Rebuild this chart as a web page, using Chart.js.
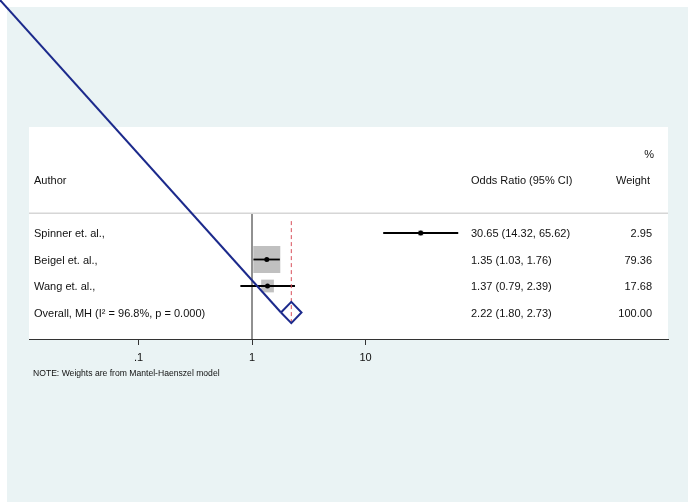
<!DOCTYPE html>
<html>
<head>
<meta charset="utf-8">
<title>Forest plot</title>
<script src="https://cdn.jsdelivr.net/npm/chart.js@4.4.1/dist/chart.umd.min.js"></script>
<style>
  html, body { margin: 0; padding: 0; background: #fff; }
  #forest { display: block; }
</style>
</head>
<body>
<canvas id="forest" width="688" height="502"></canvas>
<script>
// study rows, top to bottom
const studies = ['Spinner et. al.,', 'Beigel et. al.,', 'Wang et. al.,']
const oddsRatio = [30.65, 1.35, 1.37]
const ciLow = [14.32, 1.03, 0.79]
const ciHigh = [65.62, 1.76, 2.39]
const weights = [2.95, 79.36, 17.68]

// pooled estimate (Mantel-Haenszel)
const overallLabel = 'Overall, MH (I² = 96.8%, p = 0.000)'
const overallOR = 2.22
const overallLow = 1.80
const overallHigh = 2.73
const overallWeight = 100

const tickValues = [0.1, 1, 10]
const tickLabels = ['.1', '1', '10']

const FONT = '"Liberation Sans", Arial, Helvetica, sans-serif'
const NAVY = '#1c2a8c'
const FRAME_BG = '#eaf3f4'

// row positions on the hidden y axis (overall sits at 1)
const rowY = (i) => studies.length + 1 - i
const OVERALL_Y = 1
const SEPARATOR_Y = 4.75
const HEADER_Y = 6
const PCT_Y = 7
const DIAMOND_HALF = 0.4
const BOX_MAX = 27 // px side of the heaviest study box
const maxWeight = Math.max(...weights)

const fmt = (v) => v.toFixed(2)

const boxes = {
  data: studies.map((s, i) => ({ x: oddsRatio[i], y: rowY(i) })),
  pointStyle: 'rect',
  pointRadius: (ctx) => (BOX_MAX * Math.sqrt(weights[ctx.dataIndex] / maxWeight)) / (2 * Math.SQRT1_2),
  backgroundColor: '#c0c0c0',
  borderWidth: 0,
  order: 6,
}

const ciLines = studies.map((s, i) => ({
  data: [{ x: ciLow[i], y: rowY(i) }, { x: ciHigh[i], y: rowY(i) }],
  showLine: true,
  borderColor: '#000',
  borderWidth: 1.8,
  pointRadius: 0,
  order: 4,
}))

const estimates = {
  data: studies.map((s, i) => ({ x: oddsRatio[i], y: rowY(i) })),
  pointStyle: 'circle',
  pointRadius: 2.5,
  backgroundColor: '#000',
  borderWidth: 0,
  order: 1,
}

const nullLine = {
  data: [{ x: 1, y: 0 }, { x: 1, y: SEPARATOR_Y }],
  showLine: true,
  borderColor: '#222',
  borderWidth: 1,
  pointRadius: 0,
  order: 7,
}

const overallLine = {
  data: [{ x: overallOR, y: OVERALL_Y - DIAMOND_HALF }, { x: overallOR, y: rowY(0) + 0.55 }],
  showLine: true,
  borderColor: '#d94f5a',
  borderWidth: 1,
  borderDash: [4, 3],
  pointRadius: 0,
  order: 3,
}

const diamond = {
  data: [
    { x: overallLow, y: OVERALL_Y },
    { x: overallOR, y: OVERALL_Y + DIAMOND_HALF },
    { x: overallHigh, y: OVERALL_Y },
    { x: overallOR, y: OVERALL_Y - DIAMOND_HALF },
    { x: overallLow, y: OVERALL_Y },
  ],
  showLine: true,
  borderColor: NAVY,
  borderWidth: 2,
  pointRadius: 0,
  order: 2,
}

// frame background, white plot region
const backdrop = {
  id: 'backdrop',
  beforeDraw(chart) {
    const { ctx, chartArea: a, width, height } = chart
    ctx.save()
    ctx.fillStyle = '#fff'
    ctx.fillRect(0, 0, width, height)
    ctx.fillStyle = FRAME_BG
    ctx.fillRect(7, 7, width - 7, height - 7)
    ctx.fillStyle = '#fff'
    ctx.fillRect(a.left, a.top, a.right - a.left, a.bottom - a.top)
    ctx.restore()
  },
}

// table text, header rule and the stray polygon segment of the diamond
const table = {
  id: 'table',
  afterDatasetsDraw(chart) {
    const { ctx, chartArea: a, scales } = chart
    const y = scales.y
    const x = scales.x
    const nameX = a.left + 5
    const ciX = a.left + 442
    const wX = a.right - 16
    const rowPx = (v) => y.getPixelForValue(v) + 1

    ctx.save()
    ctx.strokeStyle = '#d6d6d6'
    ctx.lineWidth = 1.5
    ctx.beginPath()
    ctx.moveTo(a.left, y.getPixelForValue(SEPARATOR_Y))
    ctx.lineTo(a.right, y.getPixelForValue(SEPARATOR_Y))
    ctx.stroke()

    ctx.font = '11px ' + FONT
    ctx.fillStyle = '#111'
    ctx.textBaseline = 'middle'

    ctx.textAlign = 'left'
    ctx.fillText('Author', nameX, rowPx(HEADER_Y))
    ctx.fillText('Odds Ratio (95% CI)', ciX, rowPx(HEADER_Y))
    ctx.textAlign = 'right'
    ctx.fillText('Weight', wX - 2, rowPx(HEADER_Y))
    ctx.fillText('%', wX + 2, rowPx(PCT_Y))

    studies.forEach((s, i) => {
      const py = rowPx(rowY(i))
      ctx.textAlign = 'left'
      ctx.fillText(s, nameX, py)
      ctx.fillText(fmt(oddsRatio[i]) + ' (' + fmt(ciLow[i]) + ', ' + fmt(ciHigh[i]) + ')', ciX, py)
      ctx.textAlign = 'right'
      ctx.fillText(fmt(weights[i]), wX, py)
    })

    const oy = y.getPixelForValue(OVERALL_Y)
    ctx.textAlign = 'left'
    ctx.fillText(overallLabel, nameX, oy + 1)
    ctx.fillText(fmt(overallOR) + ' (' + fmt(overallLow) + ', ' + fmt(overallHigh) + ')', ciX, oy + 1)
    ctx.textAlign = 'right'
    ctx.fillText(fmt(overallWeight), wX, oy + 1)

    ctx.textAlign = 'left'
    ctx.font = '8.6px ' + FONT
    ctx.fillText('NOTE: Weights are from Mantel-Haenszel model', nameX - 1, a.bottom + 35)

    // the diamond outline starts at the page origin in the original export
    ctx.strokeStyle = NAVY
    ctx.lineWidth = 2
    ctx.beginPath()
    ctx.moveTo(0, 0)
    ctx.lineTo(x.getPixelForValue(overallLow), oy)
    ctx.stroke()
    ctx.restore()
  },
}

new Chart(document.getElementById('forest'), {
  type: 'scatter',
  data: {
    datasets: [boxes, ...ciLines, estimates, nullLine, overallLine, diamond],
  },
  options: {
    responsive: false,
    animation: false,
    events: [],
    layout: { padding: { left: 29, right: 20, top: 127, bottom: 0 } },
    plugins: {
      legend: { display: false },
      tooltip: { enabled: false },
    },
    scales: {
      x: {
        type: 'logarithmic',
        position: 'bottom',
        min: Math.pow(10, -223 / 113.5),
        max: Math.pow(10, 416 / 113.5),
        afterBuildTicks: (scale) => {
          scale.ticks = tickValues.map((v) => ({ value: v }))
        },
        afterFit: (scale) => {
          scale.height = 163
        },
        ticks: {
          autoSkip: false,
          maxRotation: 0,
          padding: 6,
          color: '#111',
          font: { family: FONT, size: 11 },
          callback: (value) => tickLabels[tickValues.indexOf(value)],
        },
        grid: { drawOnChartArea: false, drawTicks: true, tickLength: 6, color: '#333' },
        border: { display: true, color: '#333', width: 1 },
      },
      y: {
        display: false,
        min: 0,
        max: 8,
      },
    },
  },
  plugins: [backdrop, table],
})
</script>
</body>
</html>
